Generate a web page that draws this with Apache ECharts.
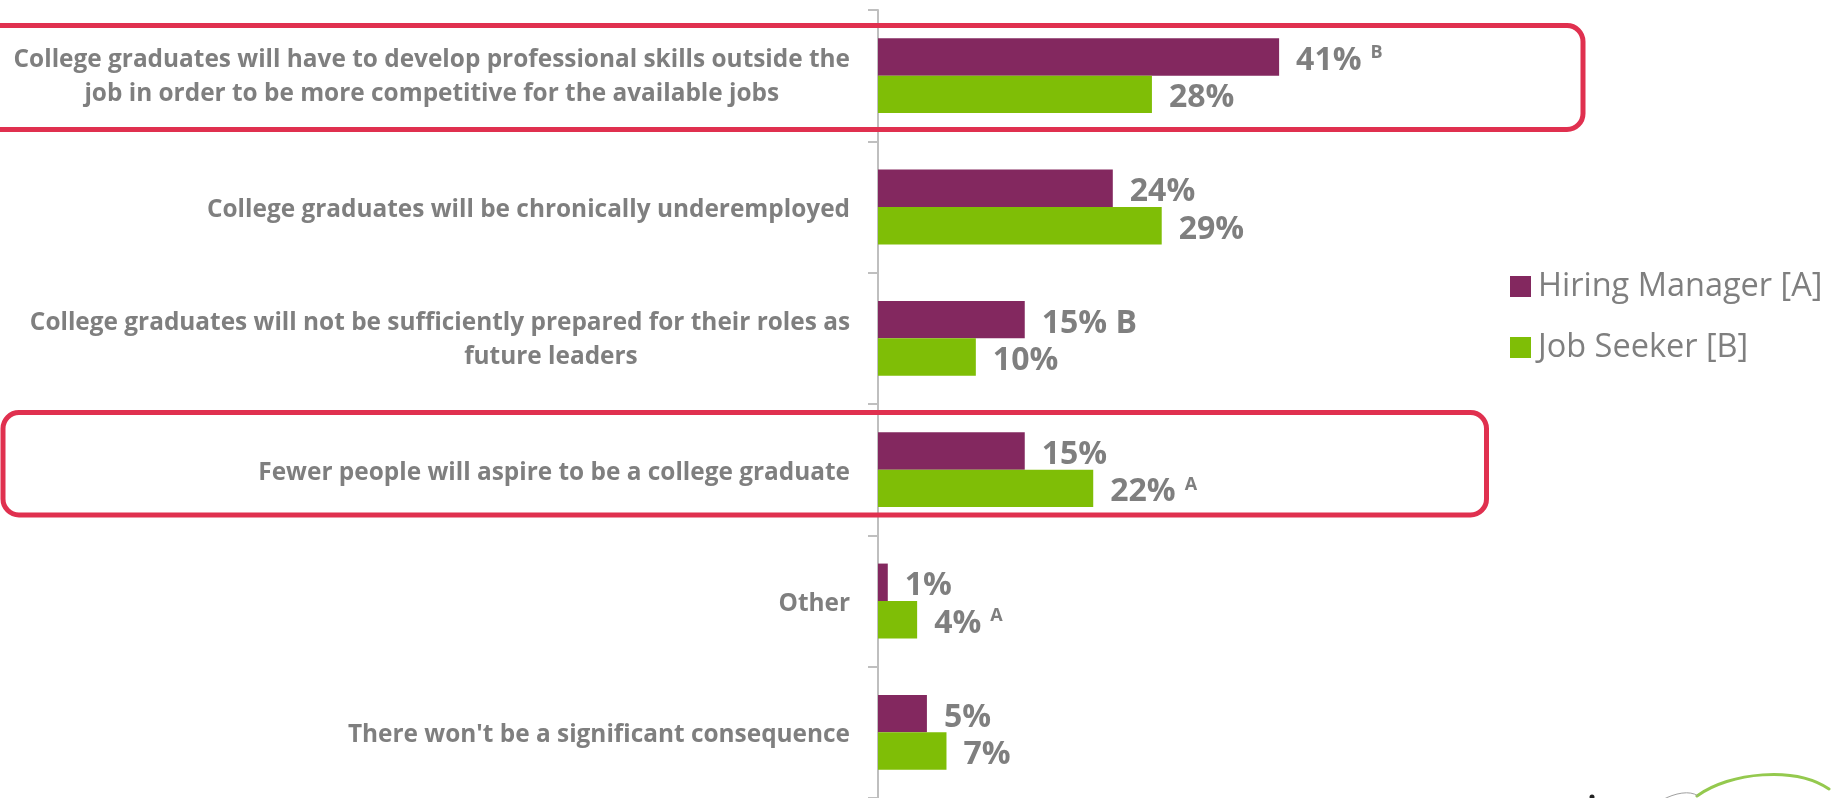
<!DOCTYPE html>
<html>
<head>
<meta charset="utf-8">
<title>Consequences for college graduates</title>
<script src="https://cdn.jsdelivr.net/npm/echarts@6/dist/echarts.min.js"></script>
<style>
  html, body { margin: 0; padding: 0; background: #ffffff; }
  #chart { width: 1833px; height: 798px; }
</style>
</head>
<body>
<div id="chart"></div>
<script>
// Survey answers, top to bottom
const categories = [
  'College graduates will have to develop professional skills outside the\njob in order to be more competitive for the available jobs',
  'College graduates will be chronically underemployed',
  'College graduates will not be sufficiently prepared for their roles as\nfuture leaders',
  'Fewer people will aspire to be a college graduate',
  'Other',
  "There won't be a significant consequence"
];

const seriesNames = ['Hiring Manager [A]', 'Job Seeker [B]'];

// Share of respondents (%)
const hiringManager = [41, 24, 15, 15, 1, 5];
const jobSeeker = [28, 29, 10, 22, 4, 7];

// Significance letters shown beside the values
const hiringMarks = ['B', '', 'B', '', '', ''];
const hiringMarkRaised = [true, false, false, false, false, false];
const jobSeekerMarks = ['', '', '', 'A', 'A', ''];
const jobSeekerMarkRaised = [false, false, false, true, true, false];

const GRAY = '#7f7f7f';
const FONT = '"Open Sans", Lato, sans-serif';
const PURPLE = '#83285f';
const GREEN = '#7fbe06';
const RED = '#e0304f';

function valueLabel(marks, raised) {
  return function (p) {
    const i = p.dataIndex;
    const m = marks[i];
    if (!m) return '{v|' + p.value + '%}';
    if (raised[i]) return '{v|' + p.value + '%}{s|' + m + '}';
    return '{v|' + p.value + '% ' + m + '}';
  };
}

const valueRich = {
  v: { fontSize: 32, fontWeight: 'bold', color: GRAY, fontFamily: FONT, lineHeight: 34, padding: [8, 0, 0, 0] },
  s: { fontSize: 18, fontWeight: 'bold', color: GRAY, fontFamily: FONT, lineHeight: 18,
       verticalAlign: 'top', padding: [4, 0, 0, 9] }
};

const labelStyle = { fontSize: 24.4, fontWeight: 'bold', color: GRAY, fontFamily: FONT, lineHeight: 37 };

const chart = echarts.init(document.getElementById('chart'), null, { renderer: 'canvas' });

chart.setOption({
  backgroundColor: '#ffffff',
  animation: false,
  grid: { left: 878, top: 10, width: 587, height: 792 },
  legend: {
    data: seriesNames,
    orient: 'vertical',
    left: 1505,
    top: 265,
    itemWidth: 21,
    itemHeight: 21,
    itemGap: 28,
    icon: 'rect',
    textStyle: { fontSize: 32.5, color: GRAY, fontFamily: FONT, lineHeight: 30, padding: [0, 0, 0, 2] }
  },
  xAxis: { type: 'value', min: 0, max: 60, show: false },
  yAxis: {
    type: 'category',
    data: categories,
    inverse: true,
    axisLine: { lineStyle: { color: '#bfbfbf', width: 2 } },
    axisTick: { show: true, length: 10, lineStyle: { color: '#bfbfbf', width: 2 } },
    axisLabel: {
      margin: 28,
      formatter: function (value, idx) {
        const lines = value.split('\n');
        if (lines.length === 1) return '{a|' + lines[0] + '}';
        const second = idx === 2 ? 'c' : 'b';
        return '{a|' + lines[0] + '}\n{' + second + '|' + lines[1] + '}';
      },
      rich: {
        a: Object.assign({}, labelStyle, { padding: [6, 0, 0, 0] }),
        b: Object.assign({}, labelStyle, { align: 'center' }),
        c: Object.assign({}, labelStyle, { align: 'center', padding: [0, 0, 0, 222] })
      }
    },
    splitLine: { show: false }
  },
  series: [
    {
      name: seriesNames[0],
      type: 'bar',
      data: hiringManager,
      itemStyle: { color: PURPLE },
      barGap: '0%',
      barCategoryGap: '43%',
      label: { show: true, position: 'right', distance: 17, formatter: valueLabel(hiringMarks, hiringMarkRaised), rich: valueRich }
    },
    {
      name: seriesNames[1],
      type: 'bar',
      data: jobSeeker,
      itemStyle: { color: GREEN },
      barGap: '0%',
      barCategoryGap: '43%',
      label: { show: true, position: 'right', distance: 17, formatter: valueLabel(jobSeekerMarks, jobSeekerMarkRaised), rich: valueRich }
    }
  ],
  graphic: [
    // highlight frames around the two key answers
    { type: 'rect', z: 100, silent: true,
      shape: { x: -20, y: 25.5, width: 1603, height: 104, r: 16 },
      style: { fill: null, stroke: RED, lineWidth: 5 } },
    { type: 'rect', z: 100, silent: true,
      shape: { x: 3, y: 412.5, width: 1483.5, height: 102.5, r: 16 },
      style: { fill: null, stroke: RED, lineWidth: 5 } },
    // corner logo swoosh
    { type: 'bezierCurve', silent: true,
      shape: { x1: 1697, y1: 796, cpx1: 1730, cpy1: 772, cpx2: 1795, cpy2: 766, x2: 1829, y2: 789 },
      style: { fill: null, stroke: '#94c94e', lineWidth: 3, lineCap: 'round' } },
    { type: 'bezierCurve', silent: true,
      shape: { x1: 1662, y1: 800, cpx1: 1675, cpy1: 793, cpx2: 1690, cpy2: 790, x2: 1698, y2: 796 },
      style: { fill: null, stroke: '#a0a0a0', lineWidth: 1 } },
    { type: 'circle', silent: true,
      shape: { cx: 1592, cy: 797, r: 2.5 },
      style: { fill: '#222222' } }
  ]
});
</script>
</body>
</html>
